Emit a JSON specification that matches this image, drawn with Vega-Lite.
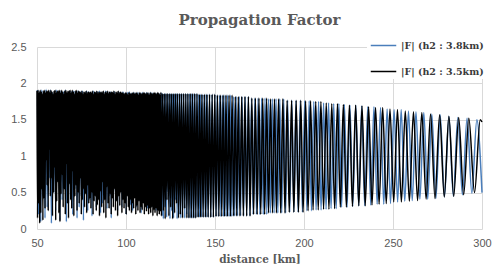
{
"$schema":"https://vega.github.io/schema/vega-lite/v6.json",
"width":445,"height":182,
"autosize":{"type":"none"},
"padding":{"left":37,"top":47,"right":10,"bottom":43},
"background":"white",
"title":{"text":"Propagation Factor","font":"DejaVu Serif","fontWeight":"bold","fontSize":15,"color":"#595959","anchor":"middle","offset":1},
"config":{"view":{"stroke":null}},
"encoding":{
"x":{"field":"d","type":"quantitative","scale":{"domain":[50,300],"nice":false,"zero":false},
"axis":{"values":[50,100,150,200,250,300],"grid":true,"gridColor":"#d9d9d9","ticks":false,"domain":false,"labelFlush":false,"labelFont":"Liberation Sans","labelFontSize":11,"labelColor":"#595959","labelPadding":8,"title":"distance [km]","titleFont":"DejaVu Serif","titleFontWeight":"bold","titleFontSize":10.5,"titleColor":"#595959","titlePadding":6}},
"y":{"field":"f","type":"quantitative","scale":{"domain":[0,2.5],"nice":false},
"axis":{"values":[0,0.5,1,1.5,2,2.5],"format":"~g","grid":true,"gridColor":"#d9d9d9","ticks":false,"domain":false,"labelFont":"Liberation Sans","labelFontSize":11,"labelColor":"#595959","labelPadding":11,"title":null}}
},
"layer":[
{"data":{"values":[
{"d":50.3,"f":1.91},{"d":50.9,"f":0.2},{"d":51.5,"f":1.89},{"d":52.1,"f":0.1},{"d":52.7,"f":1.91},{"d":53.3,"f":0.45},{"d":53.9,"f":1.88},{"d":54.5,"f":0.15},{"d":55.1,"f":1.92},{"d":55.7,"f":0.3},{"d":56.3,"f":1.89},{"d":56.9,"f":0.7},{"d":57.5,"f":1.91},{"d":58.1,"f":0.08},{"d":58.7,"f":1.88},{"d":59.3,"f":0.5},{"d":59.9,"f":1.9},{"d":60.5,"f":0.25},{"d":61.1,"f":1.91},{"d":61.7,"f":0.85},{"d":62.3,"f":1.88},{"d":62.9,"f":0.12},{"d":63.5,"f":1.9},{"d":64.1,"f":0.4},{"d":64.7,"f":1.89},{"d":65.3,"f":0.6},{"d":65.9,"f":1.91},{"d":66.5,"f":0.1},{"d":67.1,"f":1.88},{"d":67.7,"f":0.35},{"d":68.3,"f":1.9},{"d":68.9,"f":0.95},{"d":69.5,"f":1.89},{"d":70.1,"f":0.2},{"d":70.7,"f":1.9},{"d":71.3,"f":0.55},{"d":71.9,"f":1.88},{"d":72.5,"f":0.15},{"d":73.1,"f":1.9},{"d":73.7,"f":0.3},{"d":74.3,"f":1.89},{"d":74.9,"f":0.45},{"d":75.5,"f":1.9},{"d":76.1,"f":0.12},{"d":76.7,"f":1.88},{"d":77.3,"f":0.65},{"d":77.9,"f":1.9},{"d":78.5,"f":0.25},{"d":79.1,"f":1.89},{"d":79.7,"f":0.4},{"d":80.3,"f":1.88},{"d":80.9,"f":0.18},{"d":81.5,"f":1.9},{"d":82.1,"f":0.75},{"d":82.7,"f":1.88},{"d":83.3,"f":0.3},{"d":83.9,"f":1.89},{"d":84.5,"f":0.5},{"d":85.1,"f":1.9},{"d":85.7,"f":0.22},{"d":86.3,"f":1.88},{"d":86.9,"f":0.35},{"d":87.5,"f":1.89},{"d":88.1,"f":0.6},{"d":88.7,"f":1.9},{"d":89.3,"f":0.28},{"d":89.9,"f":1.88},{"d":90.5,"f":0.45},{"d":91.1,"f":1.89},{"d":91.7,"f":0.15},{"d":92.3,"f":1.88},{"d":92.9,"f":0.52},{"d":93.5,"f":1.89},{"d":94.1,"f":0.38},{"d":94.7,"f":1.87},{"d":95.3,"f":0.25},{"d":95.9,"f":1.89},{"d":96.5,"f":0.65},{"d":97.1,"f":1.88},{"d":97.7,"f":0.3},{"d":98.3,"f":1.89},{"d":98.9,"f":0.42},{"d":99.5,"f":1.87},{"d":100.1,"f":0.2},{"d":100.7,"f":1.88},{"d":101.3,"f":0.55},{"d":101.9,"f":1.89},{"d":102.5,"f":0.33},{"d":103.1,"f":1.87},{"d":103.7,"f":0.25},{"d":104.3,"f":1.88},{"d":104.9,"f":0.48},{"d":105.5,"f":1.87},{"d":106.1,"f":0.3},{"d":106.7,"f":1.88},{"d":107.3,"f":0.4},{"d":107.9,"f":1.87},{"d":108.5,"f":0.22},{"d":109.1,"f":1.88},{"d":109.7,"f":0.5},{"d":110.3,"f":1.87},{"d":110.9,"f":0.35},{"d":111.5,"f":1.88},{"d":112.1,"f":0.28},{"d":112.7,"f":1.87},{"d":113.3,"f":0.45},{"d":113.9,"f":1.88},{"d":114.5,"f":0.3},{"d":115.1,"f":1.87},{"d":115.7,"f":0.38},{"d":116.3,"f":1.86},{"d":116.9,"f":0.25},{"d":117.5,"f":1.87},{"d":118.1,"f":0.42},{"d":118.7,"f":1.86},{"d":119.3,"f":0.32},{"d":119.9,"f":1.87},{"d":120.2,"f":0.18},
{"d":120.5,"f":1.86},{"d":121,"f":0.14},{"d":121.4,"f":1.86},{"d":121.9,"f":0.3},{"d":122.3,"f":1.86},{"d":122.8,"f":0.16},{"d":123.3,"f":1.86},{"d":123.8,"f":0.5},{"d":124.2,"f":1.86},{"d":124.7,"f":0.14},{"d":125.2,"f":1.86},{"d":125.7,"f":0.25},{"d":126.2,"f":1.86},{"d":126.7,"f":0.15},{"d":127.2,"f":1.86},{"d":127.7,"f":0.4},{"d":128.2,"f":1.86},{"d":128.7,"f":0.14},{"d":129.2,"f":1.86},{"d":129.8,"f":0.2},{"d":130.3,"f":1.86},{"d":130.8,"f":0.15},{"d":131.4,"f":1.86},{"d":131.9,"f":0.28},{"d":132.4,"f":1.86},{"d":133,"f":0.15},{"d":133.6,"f":1.86},{"d":134.1,"f":0.2},{"d":134.7,"f":1.86},{"d":135.2,"f":0.15},{"d":135.8,"f":1.86},{"d":136.4,"f":0.15},{"d":137,"f":1.86},{"d":137.6,"f":0.15},{"d":138.2,"f":1.86},{"d":138.8,"f":0.15},{"d":139.4,"f":1.86},{"d":140,"f":0.16},{"d":140.6,"f":1.85},{"d":141.2,"f":0.16},{"d":141.8,"f":1.85},{"d":142.4,"f":0.16},{"d":143.1,"f":1.85},{"d":143.7,"f":0.16},{"d":144.4,"f":1.85},{"d":145,"f":0.16},{"d":145.7,"f":1.85},{"d":146.3,"f":0.16},{"d":147,"f":1.85},{"d":147.7,"f":0.16},{"d":148.4,"f":1.85},{"d":149.1,"f":0.16},{"d":149.8,"f":1.85},{"d":150.5,"f":0.17},{"d":151.2,"f":1.84},{"d":151.9,"f":0.17},{"d":152.6,"f":1.84},{"d":153.3,"f":0.17},{"d":154.1,"f":1.84},{"d":154.8,"f":0.17},{"d":155.6,"f":1.84},{"d":156.3,"f":0.17},{"d":157.1,"f":1.84},{"d":157.9,"f":0.17},{"d":158.7,"f":1.84},{"d":159.5,"f":0.17},{"d":160.3,"f":1.82},{"d":161.1,"f":0.18},{"d":161.9,"f":1.82},{"d":162.7,"f":0.18},{"d":163.6,"f":1.82},{"d":164.4,"f":0.18},{"d":165.2,"f":1.82},{"d":166.1,"f":0.18},{"d":167,"f":1.82},{"d":167.8,"f":0.18},{"d":168.7,"f":1.82},{"d":169.6,"f":0.18},{"d":170.5,"f":1.8},{"d":171.4,"f":0.2},{"d":172.4,"f":1.8},{"d":173.3,"f":0.2},{"d":174.2,"f":1.8},{"d":175.2,"f":0.2},{"d":176.2,"f":1.8},{"d":177.1,"f":0.2},{"d":178.1,"f":1.8},{"d":179.1,"f":0.2},{"d":180.1,"f":1.79},{"d":181.1,"f":0.22},{"d":182.2,"f":1.79},{"d":183.2,"f":0.22},{"d":184.3,"f":1.79},{"d":185.3,"f":0.22},{"d":186.4,"f":1.79},{"d":187.5,"f":0.22},{"d":188.6,"f":1.79},{"d":189.7,"f":0.22},{"d":190.8,"f":1.77},{"d":192,"f":0.23},{"d":193.2,"f":1.77},{"d":194.3,"f":0.23},{"d":195.5,"f":1.77},{"d":196.7,"f":0.23},{"d":197.9,"f":1.77},{"d":199.1,"f":0.23},{"d":200.4,"f":1.76},{"d":201.6,"f":0.25},{"d":202.9,"f":1.76},{"d":204.2,"f":0.25},{"d":205.5,"f":1.75},{"d":206.8,"f":0.26},{"d":208.2,"f":1.75},{"d":209.6,"f":0.26},{"d":211,"f":1.73},{"d":212.4,"f":0.27},{"d":213.8,"f":1.73},{"d":215.2,"f":0.28},{"d":216.7,"f":1.72},{"d":218.1,"f":0.28},{"d":219.6,"f":1.72},{"d":221.1,"f":0.3},{"d":222.7,"f":1.71},{"d":224.2,"f":0.3},{"d":225.8,"f":1.7},{"d":227.4,"f":0.31},{"d":229.1,"f":1.7},{"d":230.7,"f":0.32},{"d":232.4,"f":1.69},{"d":234.1,"f":0.32},{"d":235.8,"f":1.68},{"d":237.5,"f":0.33},{"d":239.3,"f":1.68},{"d":241.1,"f":0.34},{"d":243,"f":1.67},{"d":244.8,"f":0.34},{"d":246.7,"f":1.65},{"d":248.6,"f":0.35},{"d":250.6,"f":1.64},{"d":252.6,"f":0.37},{"d":254.6,"f":1.64},{"d":256.6,"f":0.38},{"d":258.7,"f":1.62},{"d":260.8,"f":0.39},{"d":262.9,"f":1.61},{"d":265.1,"f":0.41},{"d":267.3,"f":1.6},{"d":269.5,"f":0.41},{"d":271.8,"f":1.58},{"d":274.1,"f":0.42},{"d":276.5,"f":1.57},{"d":278.9,"f":0.44},{"d":281.4,"f":1.55},{"d":283.9,"f":0.45},{"d":286.4,"f":1.53},{"d":289,"f":0.47},{"d":291.6,"f":1.52},{"d":294.3,"f":0.49},{"d":297.1,"f":1.5},{"d":300,"f":0.5}
]},
"mark":{"type":"line","interpolate":"monotone","strokeWidth":1.5},
"encoding":{"color":{"datum":"|F| (h2 : 3.8km)","type":"nominal",
"scale":{"domain":["|F| (h2 : 3.8km)","|F| (h2 : 3.5km)"],"range":["#4a7ebb","#000000"]},
"legend":{"orient":"none","legendX":330,"legendY":-18,"title":null,"fillColor":"white","padding":3,"symbolType":"stroke","symbolSize":650,"symbolStrokeWidth":1.5,"rowPadding":8,"labelOffset":4,"labelFont":"DejaVu Serif","labelFontWeight":"bold","labelFontSize":9.5,"labelColor":"#3a3a3a","labelLimit":200}}}},
{"data":{"values":[
{"d":50,"f":1.9},{"d":50.3,"f":0.15},{"d":50.6,"f":1.91},{"d":50.9,"f":0.35},{"d":51.2,"f":1.88},{"d":51.5,"f":0.08},{"d":51.8,"f":1.91},{"d":52.1,"f":0.22},{"d":52.4,"f":1.89},{"d":52.7,"f":0.55},{"d":53,"f":1.86},{"d":53.3,"f":0.12},{"d":53.6,"f":1.9},{"d":53.9,"f":0.42},{"d":54.2,"f":1.91},{"d":54.5,"f":0.28},{"d":54.8,"f":1.88},{"d":55.1,"f":0.95},{"d":55.4,"f":1.9},{"d":55.7,"f":0.6},{"d":56,"f":1.9},{"d":56.3,"f":0.25},{"d":56.6,"f":1.91},{"d":56.9,"f":1.1},{"d":57.2,"f":1.88},{"d":57.5,"f":0.45},{"d":57.8,"f":1.91},{"d":58.1,"f":0.7},{"d":58.4,"f":1.89},{"d":58.7,"f":0.18},{"d":59,"f":1.86},{"d":59.3,"f":0.5},{"d":59.6,"f":1.9},{"d":59.9,"f":0.85},{"d":60.2,"f":1.91},{"d":60.5,"f":0.12},{"d":60.8,"f":1.88},{"d":61.1,"f":0.38},{"d":61.4,"f":1.9},{"d":61.7,"f":0.65},{"d":62,"f":1.9},{"d":62.3,"f":0.22},{"d":62.6,"f":1.91},{"d":62.9,"f":0.1},{"d":63.2,"f":1.88},{"d":63.5,"f":0.48},{"d":63.8,"f":1.91},{"d":64.1,"f":0.75},{"d":64.4,"f":1.89},{"d":64.7,"f":0.3},{"d":65,"f":1.86},{"d":65.3,"f":0.55},{"d":65.6,"f":1.9},{"d":65.9,"f":0.2},{"d":66.2,"f":1.91},{"d":66.5,"f":0.9},{"d":66.8,"f":1.88},{"d":67.1,"f":0.35},{"d":67.4,"f":1.9},{"d":67.7,"f":0.15},{"d":68,"f":1.9},{"d":68.3,"f":0.62},{"d":68.6,"f":1.91},{"d":68.9,"f":0.4},{"d":69.2,"f":1.88},{"d":69.5,"f":0.28},{"d":69.8,"f":1.91},{"d":70.1,"f":0.8},{"d":70.4,"f":1.89},{"d":70.7,"f":0.18},{"d":71,"f":1.86},{"d":71.3,"f":0.45},{"d":71.6,"f":1.9},{"d":71.9,"f":0.6},{"d":72.2,"f":1.91},{"d":72.5,"f":0.25},{"d":72.8,"f":1.88},{"d":73.1,"f":0.5},{"d":73.4,"f":1.9},{"d":73.7,"f":0.35},{"d":74,"f":1.89},{"d":74.3,"f":0.7},{"d":74.6,"f":1.88},{"d":74.9,"f":0.2},{"d":75.2,"f":1.9},{"d":75.5,"f":0.4},{"d":75.8,"f":1.86},{"d":76.1,"f":0.55},{"d":76.4,"f":1.89},{"d":76.7,"f":0.3},{"d":77,"f":1.88},{"d":77.3,"f":0.48},{"d":77.6,"f":1.9},{"d":77.9,"f":0.22},{"d":78.2,"f":1.87},{"d":78.5,"f":0.6},{"d":78.8,"f":1.89},{"d":79.1,"f":0.35},{"d":79.4,"f":1.88},{"d":79.7,"f":0.42},{"d":80,"f":1.89},{"d":80.3,"f":0.28},{"d":80.6,"f":1.88},{"d":80.9,"f":0.5},{"d":81.2,"f":1.9},{"d":81.5,"f":0.2},{"d":81.8,"f":1.86},{"d":82.1,"f":0.38},{"d":82.4,"f":1.89},{"d":82.7,"f":0.45},{"d":83,"f":1.88},{"d":83.3,"f":0.25},{"d":83.6,"f":1.9},{"d":83.9,"f":0.33},{"d":84.2,"f":1.87},{"d":84.5,"f":0.4},{"d":84.8,"f":1.89},{"d":85.1,"f":0.18},{"d":85.4,"f":1.88},{"d":85.7,"f":0.52},{"d":86,"f":1.89},{"d":86.3,"f":0.3},{"d":86.6,"f":1.88},{"d":86.9,"f":0.65},{"d":87.2,"f":1.9},{"d":87.5,"f":0.22},{"d":87.8,"f":1.86},{"d":88.1,"f":0.4},{"d":88.4,"f":1.89},{"d":88.7,"f":0.15},{"d":89,"f":1.88},{"d":89.3,"f":0.58},{"d":89.6,"f":1.9},{"d":89.9,"f":0.35},{"d":90.2,"f":1.87},{"d":90.5,"f":0.28},{"d":90.8,"f":1.89},{"d":91.1,"f":0.48},{"d":91.4,"f":1.88},{"d":91.7,"f":0.2},{"d":92,"f":1.89},{"d":92.3,"f":0.42},{"d":92.6,"f":1.88},{"d":92.9,"f":0.3},{"d":93.2,"f":1.9},{"d":93.5,"f":0.55},{"d":93.8,"f":1.86},{"d":94.1,"f":0.25},{"d":94.4,"f":1.89},{"d":94.7,"f":0.38},{"d":95,"f":1.88},{"d":95.3,"f":0.18},{"d":95.6,"f":1.9},{"d":95.9,"f":0.45},{"d":96.2,"f":1.87},{"d":96.5,"f":0.32},{"d":96.8,"f":1.89},{"d":97.1,"f":0.5},{"d":97.4,"f":1.88},{"d":97.7,"f":0.22},{"d":98,"f":1.88},{"d":98.3,"f":0.4},{"d":98.6,"f":1.87},{"d":98.9,"f":0.28},{"d":99.2,"f":1.86},{"d":99.5,"f":0.35},{"d":99.8,"f":1.88},{"d":100.1,"f":0.2},{"d":100.4,"f":1.87},{"d":100.7,"f":0.45},{"d":101,"f":1.85},{"d":101.3,"f":0.3},{"d":101.6,"f":1.88},{"d":101.9,"f":0.25},{"d":102.2,"f":1.87},{"d":102.5,"f":0.4},{"d":102.8,"f":1.86},{"d":103.1,"f":0.22},{"d":103.4,"f":1.87},{"d":103.7,"f":0.35},{"d":104,"f":1.88},{"d":104.3,"f":0.28},{"d":104.6,"f":1.87},{"d":104.9,"f":0.42},{"d":105.2,"f":1.86},{"d":105.5,"f":0.2},{"d":105.8,"f":1.88},{"d":106.1,"f":0.32},{"d":106.4,"f":1.87},{"d":106.7,"f":0.25},{"d":107,"f":1.85},{"d":107.3,"f":0.38},{"d":107.6,"f":1.88},{"d":107.9,"f":0.22},{"d":108.2,"f":1.87},{"d":108.5,"f":0.3},{"d":108.8,"f":1.86},{"d":109.1,"f":0.26},{"d":109.4,"f":1.87},{"d":109.7,"f":0.35},{"d":110,"f":1.88},{"d":110.3,"f":0.2},{"d":110.6,"f":1.87},{"d":110.9,"f":0.3},{"d":111.2,"f":1.86},{"d":111.5,"f":0.24},{"d":111.8,"f":1.88},{"d":112.1,"f":0.32},{"d":112.4,"f":1.87},{"d":112.7,"f":0.2},{"d":113,"f":1.85},{"d":113.3,"f":0.28},{"d":113.6,"f":1.88},{"d":113.9,"f":0.22},{"d":114.2,"f":1.87},{"d":114.5,"f":0.3},{"d":114.8,"f":1.86},{"d":115.1,"f":0.18},{"d":115.4,"f":1.87},{"d":115.7,"f":0.26},{"d":116,"f":1.88},{"d":116.3,"f":0.22},{"d":116.6,"f":1.87},{"d":116.9,"f":0.28},{"d":117.2,"f":1.86},{"d":117.5,"f":0.18},{"d":117.8,"f":1.88},{"d":118.1,"f":0.25},{"d":118.4,"f":1.87},{"d":118.7,"f":0.2},{"d":119,"f":1.85},{"d":119.3,"f":0.24},{"d":119.6,"f":1.88},{"d":119.9,"f":0.18},
{"d":120.5,"f":1.86},{"d":121,"f":0.25},{"d":121.5,"f":1.86},{"d":122,"f":0.14},{"d":122.5,"f":1.86},{"d":123,"f":0.4},{"d":123.5,"f":1.86},{"d":124.1,"f":0.18},{"d":124.6,"f":1.86},{"d":125.1,"f":0.3},{"d":125.6,"f":1.86},{"d":126.2,"f":0.14},{"d":126.7,"f":1.86},{"d":127.3,"f":0.22},{"d":127.8,"f":1.86},{"d":128.4,"f":0.35},{"d":128.9,"f":1.86},{"d":129.5,"f":0.15},{"d":130.1,"f":1.86},{"d":130.6,"f":0.2},{"d":131.2,"f":1.86},{"d":131.8,"f":0.15},{"d":132.4,"f":1.86},{"d":133,"f":0.28},{"d":133.6,"f":1.86},{"d":134.2,"f":0.15},{"d":134.8,"f":1.86},{"d":135.4,"f":0.15},{"d":136.1,"f":1.86},{"d":136.7,"f":0.15},{"d":137.3,"f":1.86},{"d":138,"f":0.15},{"d":138.6,"f":1.86},{"d":139.2,"f":0.15},{"d":139.9,"f":1.86},{"d":140.6,"f":0.16},{"d":141.3,"f":1.85},{"d":141.9,"f":0.16},{"d":142.6,"f":1.85},{"d":143.3,"f":0.16},{"d":144,"f":1.85},{"d":144.7,"f":0.16},{"d":145.4,"f":1.85},{"d":146.1,"f":0.16},{"d":146.9,"f":1.85},{"d":147.6,"f":0.16},{"d":148.4,"f":1.85},{"d":149.1,"f":0.16},{"d":149.9,"f":1.85},{"d":150.6,"f":0.17},{"d":151.4,"f":1.84},{"d":152.2,"f":0.17},{"d":153,"f":1.84},{"d":153.8,"f":0.17},{"d":154.6,"f":1.84},{"d":155.4,"f":0.17},{"d":156.2,"f":1.84},{"d":157,"f":0.17},{"d":157.9,"f":1.84},{"d":158.7,"f":0.17},{"d":159.6,"f":1.84},{"d":160.5,"f":0.18},{"d":161.4,"f":1.82},{"d":162.2,"f":0.18},{"d":163.1,"f":1.82},{"d":164,"f":0.18},{"d":165,"f":1.82},{"d":165.9,"f":0.18},{"d":166.8,"f":1.82},{"d":167.8,"f":0.18},{"d":168.8,"f":1.82},{"d":169.7,"f":0.18},{"d":170.7,"f":1.8},{"d":171.7,"f":0.2},{"d":172.7,"f":1.8},{"d":173.7,"f":0.2},{"d":174.7,"f":1.8},{"d":175.7,"f":0.2},{"d":176.8,"f":1.8},{"d":177.9,"f":0.2},{"d":179,"f":1.8},{"d":180.1,"f":0.22},{"d":181.2,"f":1.79},{"d":182.3,"f":0.22},{"d":183.4,"f":1.79},{"d":184.5,"f":0.22},{"d":185.7,"f":1.79},{"d":186.9,"f":0.22},{"d":188.1,"f":1.79},{"d":189.3,"f":0.22},{"d":190.5,"f":1.77},{"d":191.7,"f":0.23},{"d":193,"f":1.77},{"d":194.3,"f":0.23},{"d":195.6,"f":1.77},{"d":196.9,"f":0.23},{"d":198.2,"f":1.77},{"d":199.5,"f":0.23},{"d":200.9,"f":1.76},{"d":202.3,"f":0.25},{"d":203.7,"f":1.76},{"d":205.1,"f":0.26},{"d":206.6,"f":1.75},{"d":208,"f":0.26},{"d":209.5,"f":1.75},{"d":211,"f":0.27},{"d":212.5,"f":1.73},{"d":214,"f":0.27},{"d":215.6,"f":1.72},{"d":217.2,"f":0.28},{"d":218.8,"f":1.72},{"d":220.4,"f":0.3},{"d":222.1,"f":1.71},{"d":223.8,"f":0.3},{"d":225.5,"f":1.7},{"d":227.2,"f":0.31},{"d":229,"f":1.7},{"d":230.8,"f":0.32},{"d":232.6,"f":1.69},{"d":234.4,"f":0.32},{"d":236.3,"f":1.68},{"d":238.2,"f":0.33},{"d":240.2,"f":1.67},{"d":242.2,"f":0.34},{"d":244.2,"f":1.67},{"d":246.2,"f":0.35},{"d":248.3,"f":1.65},{"d":250.4,"f":0.37},{"d":252.5,"f":1.64},{"d":254.7,"f":0.37},{"d":256.9,"f":1.62},{"d":259.2,"f":0.38},{"d":261.5,"f":1.61},{"d":263.8,"f":0.39},{"d":266.2,"f":1.6},{"d":268.6,"f":0.41},{"d":271.1,"f":1.58},{"d":273.6,"f":0.42},{"d":276.2,"f":1.57},{"d":278.8,"f":0.44},{"d":281.4,"f":1.55},{"d":284.1,"f":0.45},{"d":286.9,"f":1.53},{"d":289.7,"f":0.47},{"d":292.6,"f":1.52},{"d":295.8,"f":0.5},{"d":299,"f":1.5},{"d":300,"f":1.47}
]},
"mark":{"type":"line","interpolate":"monotone","strokeWidth":1.5},
"encoding":{"color":{"datum":"|F| (h2 : 3.5km)","type":"nominal"}}}
]
}
